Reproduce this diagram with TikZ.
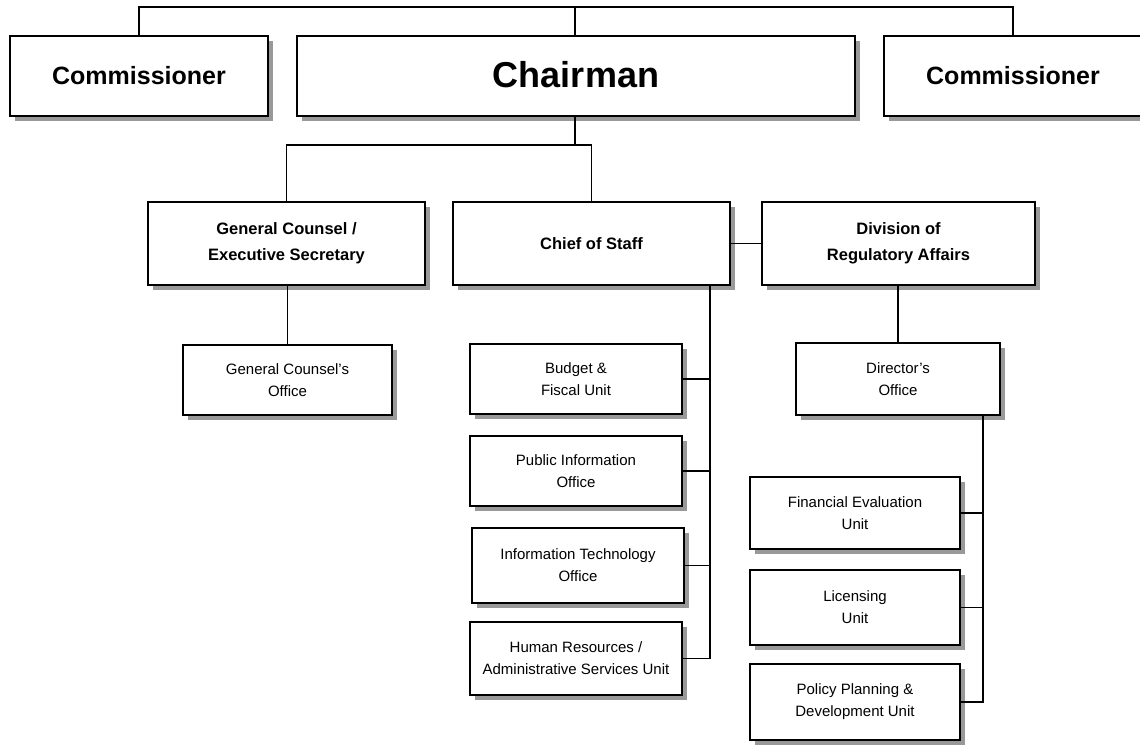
\documentclass[tikz,border=0pt]{standalone}
\usepackage{fontspec}
\setmainfont{Liberation Sans}
\usetikzlibrary{shadows}
\tikzset{
  box/.style={draw=black, line width=1.8pt, fill=white, align=center, inner sep=0pt,
    drop shadow={shadow xshift=5pt, shadow yshift=-5pt, fill=gray!80, opacity=1}},
  lvlone/.style={box, font=\fontsize{25}{30}\selectfont\bfseries},
  lvltop/.style={box, font=\fontsize{36}{42}\selectfont\bfseries},
  lvltwo/.style={box, font=\fontsize{16.5}{26}\selectfont\bfseries},
  lvlthree/.style={box, font=\fontsize{15}{22}\selectfont},
  conn/.style={draw=black, line width=1.6pt},
}
\begin{document}
\begin{tikzpicture}[x=1pt, y=-1pt]
\useasboundingbox (0,0) rectangle (1140,744);
\fill[white] (0,0) rectangle (1140,744);
% level 1
\node[lvlone, minimum width=258pt, minimum height=80pt] (comL) at (139,76) {\raisebox{-4pt}{Commissioner}};
\node[lvltop, minimum width=558pt, minimum height=80pt] (chair) at (576,76) {\raisebox{3pt}{Chairman}};
\node[lvlone, minimum width=258pt, minimum height=80pt] (comR) at (1013,76) {\raisebox{-4pt}{Commissioner}};
% level 2
\node[lvltwo, minimum width=277pt, minimum height=83pt] (gc) at (286.5,243.5) {General Counsel /\\Executive Secretary};
\node[lvltwo, minimum width=277pt, minimum height=83pt] (cos) at (591.5,243.5) {Chief of Staff};
\node[lvltwo, minimum width=273pt, minimum height=83pt] (dra) at (898.5,243.5) {Division of\\Regulatory Affairs};
% level 3
\node[lvlthree, minimum width=209pt, minimum height=70pt] (gco) at (287.5,380) {General Counsel's\\Office};
\node[lvlthree, minimum width=212pt, minimum height=70pt] (bud) at (576,379) {Budget \&\\Fiscal Unit};
\node[lvlthree, minimum width=212pt, minimum height=70pt] (pio) at (576,471) {Public Information\\Office};
\node[lvlthree, minimum width=212pt, minimum height=75pt] (ito) at (578,565.5) {Information Technology\\Office};
\node[lvlthree, minimum width=212pt, minimum height=73pt] (hr) at (576,658.5) {Human Resources /\\Administrative Services Unit};
\node[lvlthree, minimum width=204pt, minimum height=72pt] (dir) at (898,379) {Director's\\Office};
\node[lvlthree, minimum width=210pt, minimum height=72pt] (fin) at (855,513) {Financial Evaluation\\Unit};
\node[lvlthree, minimum width=210pt, minimum height=75pt] (lic) at (855,607.5) {Licensing\\Unit};
\node[lvlthree, minimum width=210pt, minimum height=76pt] (pol) at (855,702) {Policy Planning \&\\Development Unit};
% connector coordinates
\coordinate (top) at (575,7);
\coordinate (j1) at (575,145);
\coordinate (cs) at (710,0);
\coordinate (ds) at (983,0);
% connectors
\draw[conn] (comL.north) |- (top) -| (comR.north);
\draw[conn] (chair.north -| top) -- (top);
\draw[conn] (chair.south -| j1) -- (j1);
\draw[conn] (gc.north) |- (cos.north |- j1) -- (cos.north);
\draw[conn] (cos.east) -- (dra.west);
\draw[conn] (gco.north) -- (gco.north |- gc.south);
\draw[conn] (cos.south -| cs) |- (hr.east);
\foreach \n in {bud,pio,ito} \draw[conn] (\n.east) -- (\n.east -| cs);
\draw[conn] (dir.north) -- (dir.north |- dra.south);
\draw[conn] (dir.south -| ds) |- (pol.east);
\foreach \n in {fin,lic} \draw[conn] (\n.east) -- (\n.east -| ds);
\end{tikzpicture}
\end{document}
